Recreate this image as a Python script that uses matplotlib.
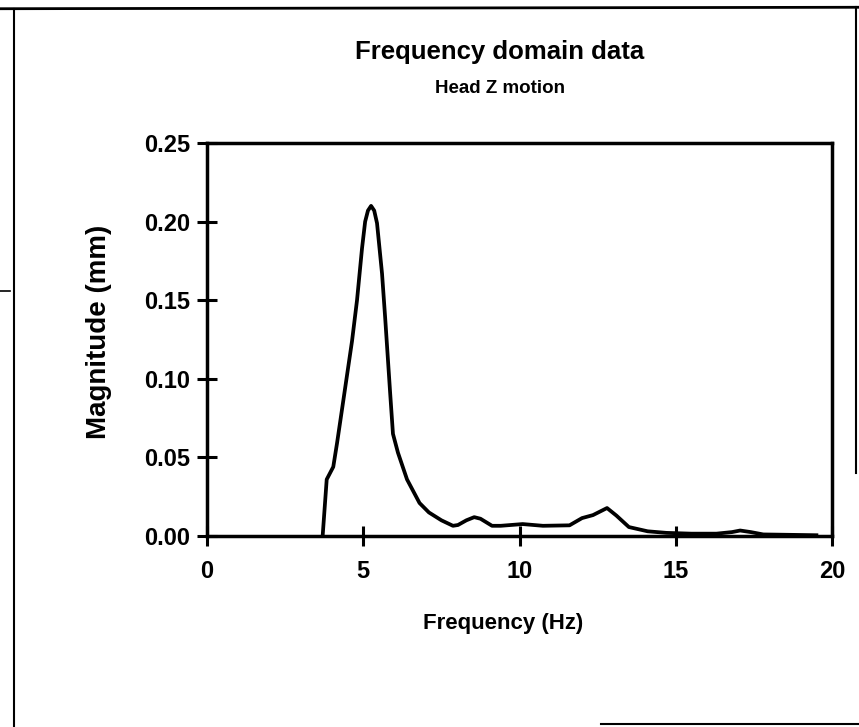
import matplotlib.pyplot as plt
from matplotlib.lines import Line2D

# frequency (Hz) and magnitude (mm)
freq = [3.70, 3.83, 4.04, 4.16, 4.36, 4.64, 4.80, 4.96, 5.06, 5.15, 5.25, 5.35,
        5.44, 5.60, 5.70, 5.86, 5.95, 6.11, 6.40, 6.80, 7.10, 7.50, 7.87, 8.03,
        8.30, 8.55, 8.75, 9.12, 9.40, 10.1, 10.75, 11.6, 12.0, 12.35, 12.8,
        13.1, 13.5, 14.1, 14.7, 15.5, 16.3, 16.8, 17.06, 17.4, 17.8, 18.5, 19.5]
mag = [0.000, 0.036, 0.044, 0.059, 0.086, 0.124, 0.150, 0.183, 0.200, 0.207,
       0.210, 0.207, 0.199, 0.167, 0.139, 0.091, 0.065, 0.053, 0.036, 0.021,
       0.015, 0.010, 0.0065, 0.007, 0.010, 0.012, 0.011, 0.0065, 0.0065,
       0.0076, 0.0065, 0.0068, 0.0114, 0.0133, 0.0178, 0.013, 0.0057, 0.003,
       0.002, 0.0015, 0.0015, 0.0025, 0.0035, 0.0025, 0.001, 0.0008, 0.0005]

xticks = [0, 5, 10, 15, 20]
yticks = [0.00, 0.05, 0.10, 0.15, 0.20, 0.25]

plt.rcParams['font.family'] = ['Liberation Sans', 'DejaVu Sans']
plt.rcParams['font.weight'] = 'bold'

fig = plt.figure(figsize=(8.59, 7.27), dpi=100)
ax = fig.add_axes([0.241, 0.2627, 0.7276, 0.5406])

ax.plot(freq, mag, color='black', lw=2.7, solid_joinstyle='round')

ax.set_xlim(0, 20)
ax.set_ylim(0, 0.25)
ax.set_xticks(xticks)
ax.set_yticks(yticks)
ax.set_yticklabels(['%.2f' % v for v in yticks])
ax.tick_params(direction='inout', length=14, width=2.2, labelsize=17, pad=5)
ax.tick_params(axis='x', pad=10)
for lab in ax.get_xticklabels() + ax.get_yticklabels():
    lab.set_fontweight('bold')
for s in ax.spines.values():
    s.set_linewidth(2.5)

ax.set_xlabel('Frequency (Hz)', fontsize=16, fontweight='bold')
ax.set_ylabel('Magnitude (mm)', fontsize=20, fontweight='bold')
ax.xaxis.set_label_coords(0.474, -0.195)
ax.yaxis.set_label_coords(-0.152, 0.52)

fig.text(0.582, 0.929, 'Frequency domain data', ha='center', va='center',
         fontsize=18.5, fontweight='bold')
fig.text(0.582, 0.878, 'Head Z motion', ha='center', va='center',
         fontsize=13.5, fontweight='bold')

# scanned page frame
fig.add_artist(Line2D([0, 1], [0.988, 0.99], color='black', lw=2))
fig.add_artist(Line2D([0.016, 0.016], [0.0, 0.988], color='black', lw=1.5))
fig.add_artist(Line2D([0.996, 0.996], [0.35, 0.99], color='black', lw=1.5))
fig.add_artist(Line2D([0.7, 1], [0.004, 0.004], color='black', lw=1.5))
fig.add_artist(Line2D([0.0, 0.012], [0.6, 0.6], color='black', lw=1.2))

fig.savefig('out.png', dpi=100)
